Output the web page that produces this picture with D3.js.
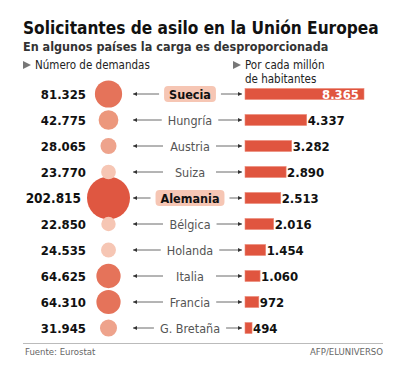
<!DOCTYPE html>
<meta charset="utf-8">
<title>Solicitantes de asilo</title>
<script src="https://cdn.jsdelivr.net/npm/d3@7/dist/d3.min.js"></script>
<style>
    body { margin: 0; background: #fff; }
    svg { display: block; }
    text { font-family: "DejaVu Sans Condensed", "DejaVu Sans", sans-serif; }
</style>
<body>
<div id="chart"></div>
<script>
// data
var countries = ["Suecia", "Hungría", "Austria", "Suiza", "Alemania", "Bélgica", "Holanda", "Italia", "Francia", "G. Bretaña"];
var demandas = [81325, 42775, 28065, 23770, 202815, 22850, 24535, 64625, 64310, 31945];
var porMillon = [8365, 4337, 3282, 2890, 2513, 2016, 1454, 1060, 972, 494];
var highlighted = ["Suecia", "Alemania"];

var fmt = d3.format(",d");
var es = function (v) { return fmt(v).replace(/,/g, "."); };

var W = 400, H = 374;
var svg = d3.select("#chart").append("svg").attr("width", W).attr("height", H);

// scales
var y = d3.scaleBand().domain(countries).range([81, 341]).paddingInner(0);
var r = d3.scaleSqrt().domain([0, 202815]).range([0, 21.5]);
var color = d3.scaleThreshold()
    .domain([25000, 40000, 60000, 100000])
    .range(["#f6c6b4", "#eea38c", "#ec977c", "#e5735a", "#df5741"]);
var x = d3.scaleLinear().domain([0, 8365]).range([0, 119]);
var barX = 245;

// titles
var title = svg.append("text").attr("x", 23).attr("y", 34)
    .attr("font-size", 21).attr("font-weight", "bold").attr("fill", "#111")
    .text("Solicitantes de asilo en la Unión Europea");
// squeeze the title into the reference width if the font runs wide
var tw = title.node().getComputedTextLength();
if (tw > 356) title.attr("font-size", 21 * 356 / tw);

svg.append("text").attr("x", 23).attr("y", 51)
    .attr("font-size", 12.5).attr("font-weight", "bold").attr("fill", "#333")
    .text("En algunos países la carga es desproporcionada");

function heading(x0, lines) {
    svg.append("path")
        .attr("d", "M" + x0 + ",61 L" + (x0 + 8) + ",65 L" + x0 + ",69 Z")
        .attr("fill", "#777");
    lines.forEach(function (t, i) {
        svg.append("text").attr("x", x0 + 12).attr("y", 69 + i * 13.5)
            .attr("font-size", 11.5).attr("fill", "#222").text(t);
    });
}
heading(23, ["Número de demandas"]);
heading(233, ["Por cada millón", "de habitantes"]);

var rows = svg.selectAll("g.row")
    .data(countries.map(function (c, i) {
        return { name: c, dem: demandas[i], pm: porMillon[i], hl: highlighted.indexOf(c) >= 0 };
    }))
    .enter().append("g").attr("class", "row")
    .attr("transform", function (d) { return "translate(0," + (y(d.name) + y.bandwidth() / 2) + ")"; });

// circles (small ones sit over the big one like the original)
rows.append("circle")
    .attr("cx", 108.5).attr("cy", 0)
    .attr("r", function (d) { return r(d.dem); })
    .attr("fill", function (d) { return color(d.dem); });
rows.filter(function (d) { return d.dem < 30000; }).raise();

rows.append("text")
    .attr("x", function (d) { return d.dem > 100000 ? 81 : 86; })
    .attr("y", 4.5)
    .attr("text-anchor", "end")
    .attr("font-size", function (d) { return d.dem > 100000 ? 13.5 : 13; })
    .attr("font-weight", "bold").attr("fill", "#111")
    .text(function (d) { return es(d.dem); });

// label boxes
rows.filter(function (d) { return d.hl; }).append("rect")
    .attr("class", "lbox")
    .attr("y", -8).attr("height", 16).attr("rx", 4)
    .attr("fill", "#f6c6b4");

var labels = rows.append("text")
    .attr("x", 190).attr("y", 4.5)
    .attr("text-anchor", "middle")
    .attr("font-size", 12.5)
    .attr("font-weight", function (d) { return d.hl ? "bold" : "normal"; })
    .attr("fill", function (d) { return d.hl ? "#111" : "#555"; })
    .text(function (d) { return d.name; });

labels.each(function (d) {
    var b = this.getBBox();
    d.l0 = b.x; d.l1 = b.x + b.width;
    if (d.hl) d3.select(this.parentNode).select("rect.lbox").attr("x", b.x - 5).attr("width", b.width + 10);
});

// arrows
function arrow(g, x1, x2, dir) {
    g.append("line").attr("x1", x1).attr("x2", x2).attr("y1", 0).attr("y2", 0)
        .attr("stroke", "#444").attr("stroke-width", 0.8);
    var tip = dir < 0 ? x1 : x2;
    g.append("path")
        .attr("d", "M" + tip + ",0 L" + (tip - dir * 4) + ",-2 L" + (tip - dir * 4) + ",2 Z")
        .attr("fill", "#333");
}
rows.each(function (d) {
    var g = d3.select(this);
    var pad = d.hl ? 10 : 6;
    arrow(g, 133, Math.min(163, d.l0 - pad), -1);
    arrow(g, Math.max(216, d.l1 + pad), 242, 1);
});

// bars
rows.append("rect")
    .attr("x", barX).attr("y", -5.5).attr("height", 11)
    .attr("width", function (d) { return x(d.pm); })
    .attr("fill", "#e0553f").attr("stroke", "#ec8a78").attr("stroke-width", 0.6);

rows.append("text")
    .attr("x", function (d) { return d.pm > 6000 ? barX + x(d.pm) - 5 : barX + x(d.pm) + 1; })
    .attr("y", 4.5)
    .attr("text-anchor", function (d) { return d.pm > 6000 ? "end" : "start"; })
    .attr("font-size", 13).attr("font-weight", "bold")
    .attr("fill", function (d) { return d.pm > 6000 ? "#fff" : "#111"; })
    .text(function (d) { return es(d.pm); });

// footer
svg.append("line").attr("x1", 23).attr("x2", 383).attr("y1", 343.5).attr("y2", 343.5)
    .attr("stroke", "#bbb").attr("stroke-width", 1.2);
svg.append("text").attr("x", 25).attr("y", 355).attr("font-size", 9.5).attr("fill", "#666")
    .text("Fuente: Eurostat");
svg.append("text").attr("x", 383).attr("y", 355).attr("font-size", 9.5).attr("fill", "#666")
    .attr("text-anchor", "end").text("AFP/ELUNIVERSO");
</script>
</body>
